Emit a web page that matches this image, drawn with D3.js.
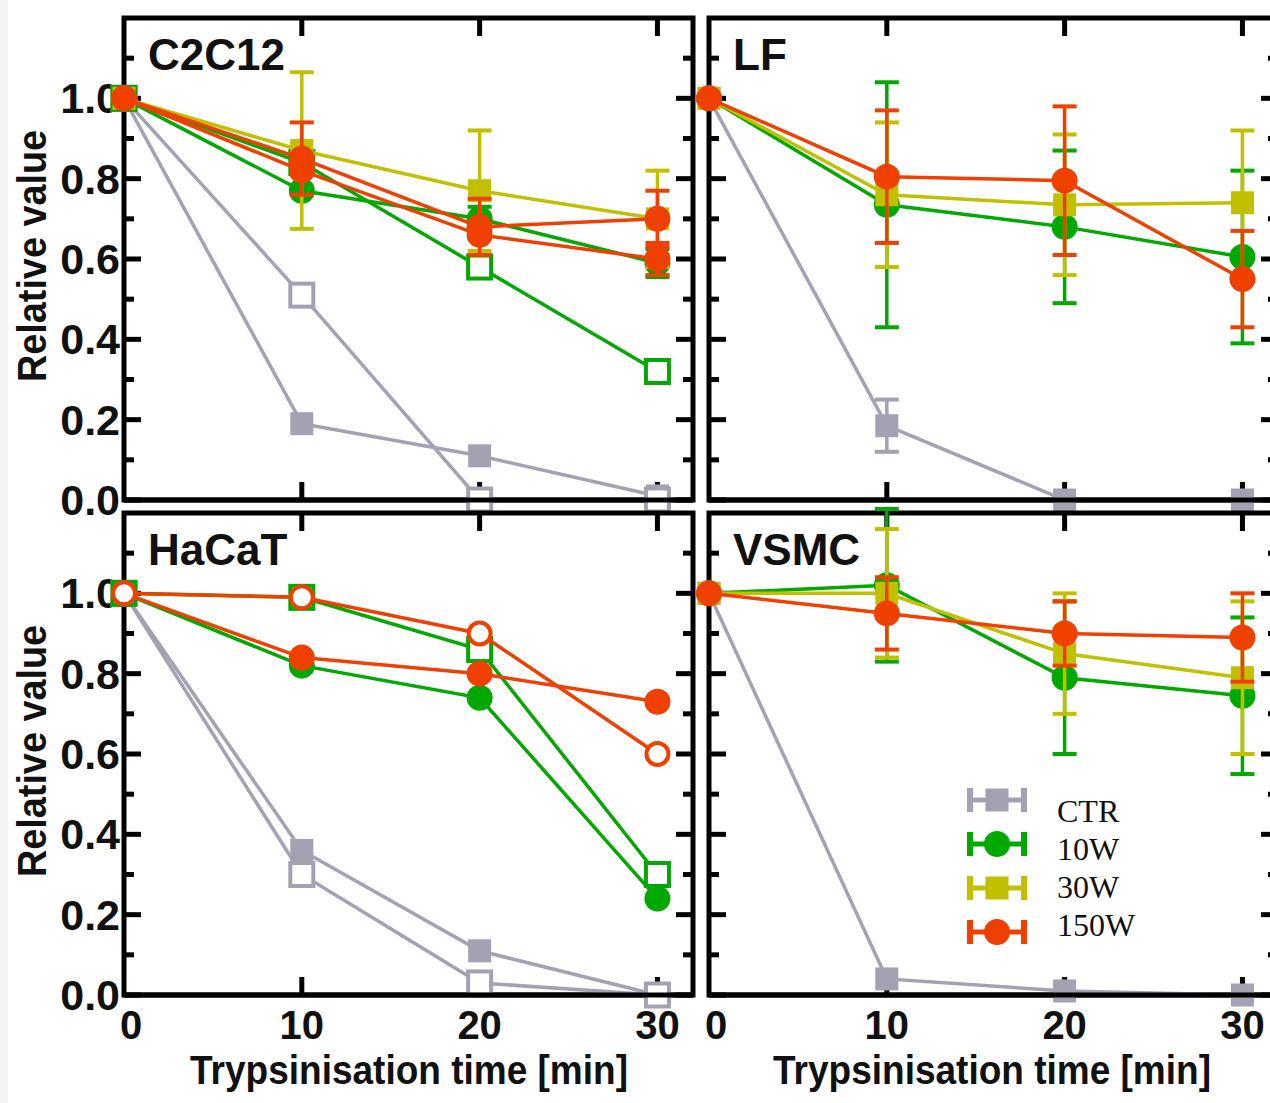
<!DOCTYPE html>
<html>
<head>
<meta charset="utf-8">
<script src="https://cdn.jsdelivr.net/npm/d3@7"></script>
<style>
  body { margin: 0; background: #fff; }
  svg { display: block; }
</style>
</head>
<body>
<svg width="1270" height="1103"></svg>
<script>
// ---- data ----
var times = [0, 10, 20, 30];
var groups = ["CTR", "10W", "30W", "150W"];
var yMajor = [0, 0.2, 0.4, 0.6, 0.8, 1.0];
var yMinor = [0.1, 0.3, 0.5, 0.7, 0.9, 1.1];
var xTickVals = [10, 20, 30];
var xTickText = ["0", "10", "20", "30"];

// C2C12
var c2c12Ctr     = [1.00, 0.19, 0.11, 0.01];
var c2c12CtrOpen = [1.00, 0.51, 0.00, 0.00];
var c2c12W10     = [1.00, 0.77, 0.70, 0.59];
var c2c12W10Err  = [0, 0, 0.03, 0.035];
var c2c12W10Open = [1.00, 0.84, 0.58, 0.32];
var c2c12W30     = [1.00, 0.87, 0.77, 0.70];
var c2c12W30Err  = [0, 0.195, 0.15, 0.12];
var c2c12W150    = [1.00, 0.85, 0.68, 0.70];
var c2c12W150Err = [0, 0.09, 0.07, 0.07];
var c2c12W150b   = [1.00, 0.82, 0.66, 0.60];
var c2c12W150bErr = [0, 0, 0, 0.04];

// LF
var lfCtr     = [1.00, 0.185, 0.00, 0.00];
var lfCtrErr  = [0, 0.065, 0, 0];
var lfW10     = [1.00, 0.735, 0.68, 0.605];
var lfW10Err  = [0, 0.305, 0.19, 0.215];
var lfW30     = [1.00, 0.76, 0.735, 0.74];
var lfW30Err  = [0, 0.18, 0.175, 0.18];
var lfW150    = [1.00, 0.805, 0.795, 0.55];
var lfW150Err = [0, 0.165, 0.185, 0.12];

// HaCaT
var hacatCtr      = [1.00, 0.36, 0.11, 0.00];
var hacatCtrOpen  = [1.00, 0.30, 0.03, 0.00];
var hacatW10      = [1.00, 0.82, 0.74, 0.24];
var hacatW10Open  = [1.00, 0.99, 0.86, 0.30];
var hacatW150     = [1.00, 0.84, 0.80, 0.73];
var hacatW150Open = [1.00, 0.99, 0.90, 0.60];

// VSMC
var vsmcCtr     = [1.00, 0.04, 0.01, 0.00];
var vsmcW10     = [1.00, 1.02, 0.79, 0.745];
var vsmcW10Err  = [0, 0.19, 0.19, 0.195];
var vsmcW30     = [1.00, 1.00, 0.85, 0.79];
var vsmcW30Err  = [0, 0.16, 0.15, 0.19];
var vsmcW150    = [1.00, 0.95, 0.90, 0.89];
var vsmcW150Err = [0, 0.09, 0.08, 0.11];

// ---- styles ----
var color = d3.scaleOrdinal().domain(groups)
  .range(["#a2a2b2", "#00a800", "#c0c000", "#f04000"]);
var shapeOf = { "CTR": "square", "10W": "circle", "30W": "square", "150W": "circle" };
var openShapeOf = { "CTR": "square", "10W": "square", "30W": "square", "150W": "circle" };

var panels = [
  { title: "C2C12", left: 124, top: 18, yLabels: true, xLabels: false, series: [
    { g: "CTR", v: c2c12Ctr }, { g: "CTR", v: c2c12CtrOpen, open: true },
    { g: "10W", v: c2c12W10Open, open: true }, { g: "10W", v: c2c12W10, e: c2c12W10Err },
    { g: "30W", v: c2c12W30, e: c2c12W30Err },
    { g: "150W", v: c2c12W150b, e: c2c12W150bErr }, { g: "150W", v: c2c12W150, e: c2c12W150Err } ] },
  { title: "LF", left: 709, top: 18, yLabels: false, xLabels: false, series: [
    { g: "CTR", v: lfCtr, e: lfCtrErr }, { g: "10W", v: lfW10, e: lfW10Err },
    { g: "30W", v: lfW30, e: lfW30Err }, { g: "150W", v: lfW150, e: lfW150Err } ] },
  { title: "HaCaT", left: 124, top: 513, yLabels: true, xLabels: true, series: [
    { g: "CTR", v: hacatCtr }, { g: "CTR", v: hacatCtrOpen, open: true },
    { g: "10W", v: hacatW10 }, { g: "10W", v: hacatW10Open, open: true },
    { g: "150W", v: hacatW150 }, { g: "150W", v: hacatW150Open, open: true } ] },
  { title: "VSMC", left: 709, top: 513, yLabels: false, xLabels: true, legend: true, series: [
    { g: "CTR", v: vsmcCtr }, { g: "10W", v: vsmcW10, e: vsmcW10Err },
    { g: "30W", v: vsmcW30, e: vsmcW30Err }, { g: "150W", v: vsmcW150, e: vsmcW150Err } ] }
];

var pw = 569, ph = 482;
var boldFont = "'Liberation Sans', Arial, sans-serif";
var svg = d3.select("svg");

svg.append("rect").attr("x", 0).attr("y", 0).attr("width", 8).attr("height", 1103).attr("fill", "#f3f3f3");

function drawMarker(g, shape, x, y, col, open) {
  if (shape === "square") {
    g.append("rect").attr("x", x - 11.5).attr("y", y - 11.5).attr("width", 23).attr("height", 23)
      .attr("fill", open ? "#fff" : col).attr("stroke", col).attr("stroke-width", open ? 4 : 0);
  } else {
    g.append("circle").attr("cx", x).attr("cy", y).attr("r", open ? 11 : 13)
      .attr("fill", open ? "#fff" : col).attr("stroke", col).attr("stroke-width", open ? 4 : 0);
  }
}

panels.forEach(function(p) {
  var x = d3.scaleLinear().domain([0, 32]).range([p.left, p.left + pw]);
  var y = d3.scaleLinear().domain([0, 1.2]).range([p.top + ph, p.top]);
  var g = svg.append("g");

  // frame and ticks
  g.append("rect").attr("x", p.left).attr("y", p.top).attr("width", pw).attr("height", ph)
    .attr("fill", "none").attr("stroke", "#000").attr("stroke-width", 5);
  var ticks = g.append("g").attr("stroke", "#000").attr("stroke-width", 5);
  yMajor.concat(yMinor).forEach(function(t) {
    var len = yMajor.indexOf(t) >= 0 ? 17 : 10;
    ticks.append("line").attr("x1", p.left).attr("x2", p.left + len).attr("y1", y(t)).attr("y2", y(t));
    ticks.append("line").attr("x1", p.left + pw).attr("x2", p.left + pw - len).attr("y1", y(t)).attr("y2", y(t));
  });
  xTickVals.forEach(function(t) {
    ticks.append("line").attr("x1", x(t)).attr("x2", x(t)).attr("y1", p.top).attr("y2", p.top + 18);
    ticks.append("line").attr("x1", x(t)).attr("x2", x(t)).attr("y1", p.top + ph).attr("y2", p.top + ph - 18);
  });

  // title
  g.append("text").attr("x", p.left + 24).attr("y", p.top + 52)
    .style("font-family", boldFont).style("font-weight", "bold").style("font-size", "44px")
    .attr("fill", "#111").text(p.title);

  // tick labels
  if (p.yLabels) {
    yMajor.forEach(function(t) {
      g.append("text").attr("x", p.left - 4).attr("y", y(t) + 15).attr("text-anchor", "end")
        .style("font-family", boldFont).style("font-weight", "bold").style("font-size", "43px")
        .attr("fill", "#111").text(d3.format(".1f")(t));
    });
    g.append("text").attr("transform", "translate(46," + (p.top + 238) + ") rotate(-90)")
      .attr("text-anchor", "middle").attr("textLength", 252).attr("lengthAdjust", "spacingAndGlyphs")
      .style("font-family", boldFont).style("font-weight", "bold").style("font-size", "40px")
      .attr("fill", "#111").text("Relative value");
  }
  if (p.xLabels) {
    times.forEach(function(t, i) {
      g.append("text").attr("x", x(t) + (i === 0 ? 7 : 0)).attr("y", p.top + ph + 44).attr("text-anchor", "middle")
        .style("font-family", boldFont).style("font-weight", "bold").style("font-size", "40px")
        .attr("fill", "#111").text(xTickText[i]);
    });
    g.append("text").attr("x", p.left + (p.left < 300 ? 285 : 283)).attr("y", p.top + ph + 89)
      .attr("text-anchor", "middle").attr("textLength", 438).attr("lengthAdjust", "spacingAndGlyphs")
      .style("font-family", boldFont).style("font-weight", "bold").style("font-size", "40px")
      .attr("fill", "#111").text("Trypsinisation time [min]");
  }

  // series
  var line = d3.line().x(function(d, i) { return x(times[i]); }).y(function(d) { return y(d); });
  p.series.forEach(function(s) {
    var col = color(s.g);
    g.append("path").attr("d", line(s.v)).attr("fill", "none").attr("stroke", col).attr("stroke-width", 3.5);
    if (s.e) {
      s.v.forEach(function(v, i) {
        if (!s.e[i]) return;
        var cx = x(times[i]), y1 = y(v - s.e[i]), y2 = y(v + s.e[i]);
        g.append("line").attr("x1", cx).attr("x2", cx).attr("y1", y1).attr("y2", y2)
          .attr("stroke", col).attr("stroke-width", 3.5);
        [y1, y2].forEach(function(yy) {
          g.append("line").attr("x1", cx - 12).attr("x2", cx + 12).attr("y1", yy).attr("y2", yy)
            .attr("stroke", col).attr("stroke-width", 4);
        });
      });
    }
    s.v.forEach(function(v, i) {
      drawMarker(g, s.open ? openShapeOf[s.g] : shapeOf[s.g], x(times[i]), y(v), col, !!s.open);
    });
  });

  // bottom frame edge sits over the markers at zero
  g.append("line").attr("x1", p.left).attr("x2", p.left + pw).attr("y1", p.top + ph).attr("y2", p.top + ph)
    .attr("stroke", "#000").attr("stroke-width", 5);

  // legend
  if (p.legend) {
    groups.forEach(function(gr, i) {
      var cy = 800 + i * 44, col = color(gr);
      var lg = g.append("g");
      lg.append("line").attr("x1", 967).attr("x2", 1027).attr("y1", cy).attr("y2", cy)
        .attr("stroke", col).attr("stroke-width", 5);
      [970, 1024].forEach(function(cx) {
        lg.append("line").attr("x1", cx).attr("x2", cx).attr("y1", cy - 12).attr("y2", cy + 12)
          .attr("stroke", col).attr("stroke-width", 6);
      });
      drawMarker(lg, shapeOf[gr], 997, cy, col, false);
      lg.append("text").attr("x", 1057).attr("y", 822 + i * 38)
        .style("font-family", "'Liberation Serif', 'DejaVu Serif', serif").style("font-size", "32px")
        .attr("fill", "#111").text(gr);
    });
  }
});
</script>
</body>
</html>
